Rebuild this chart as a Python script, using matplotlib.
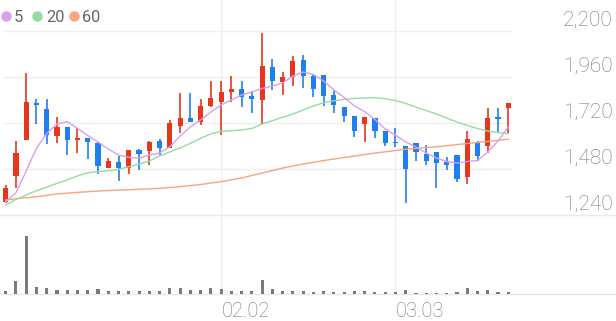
import numpy as np
import matplotlib
matplotlib.use('Agg')
from matplotlib import pyplot as plt
from matplotlib.lines import Line2D

# daily candles (index 0..49)
opens = [1308, 1443, 1631, 1826, 1793, 1654, 1701, 1631, 1640, 1617,
         1487, 1515, 1487, 1579, 1574, 1626, 1591, 1704, 1744, 1727,
         1809, 1828, 1880, 1896, 1861, 1840, 2014, 1935, 1958, 2049,
         1965, 1970, 1866, 1802, 1757, 1715, 1748, 1678, 1622, 1600,
         1614, 1557, 1570, 1518, 1553, 1437, 1617, 1600, 1750, 1797]
highs = [1396, 1626, 1982, 1845, 1844, 1753, 1701, 1692, 1640, 1622,
         1536, 1549, 1579, 1584, 1628, 1636, 1736, 1878, 1878, 1845,
         1941, 1941, 1967, 1939, 1887, 2188, 2052, 1988, 2070, 2075,
         1970, 1970, 1892, 1805, 1757, 1750, 1748, 1678, 1695, 1600,
         1614, 1605, 1570, 1544, 1553, 1678, 1628, 1797, 1797, 1826]
lows = [1303, 1381, 1631, 1715, 1610, 1614, 1553, 1565, 1531, 1452,
        1487, 1419, 1452, 1475, 1501, 1553, 1591, 1666, 1727, 1710,
        1802, 1657, 1831, 1802, 1774, 1715, 1892, 1866, 1915, 1901,
        1857, 1809, 1774, 1727, 1648, 1622, 1640, 1600, 1593, 1301,
        1523, 1501, 1379, 1475, 1414, 1402, 1523, 1562, 1666, 1666]
closes = [1381, 1565, 1831, 1814, 1657, 1701, 1631, 1643, 1622, 1497,
          1522, 1487, 1579, 1558, 1622, 1591, 1722, 1744, 1727, 1809,
          1849, 1883, 1896, 1854, 1845, 2017, 1941, 1958, 2045, 1965,
          1896, 1861, 1814, 1757, 1678, 1750, 1680, 1614, 1614, 1478,
          1570, 1522, 1510, 1501, 1426, 1635, 1548, 1744, 1739, 1826]
volume = [300, 1330, 5830, 730, 600, 370, 370, 370, 370, 470,
          300, 300, 300, 300, 300, 300, 570, 570, 370, 370,
          630, 500, 300, 300, 300, 1400, 530, 300, 300, 270,
          230, 330, 170, 230, 270, 270, 230, 230, 230, 430,
          130, 100, 100, 100, 200, 630, 270, 430, 230, 230]

# moving averages as drawn
ma5 = [1309, 1356, 1470, 1588, 1666, 1715, 1727, 1692, 1655, 1621,
       1584, 1553, 1541, 1536, 1553, 1563, 1596, 1652, 1699, 1736,
       1777, 1814, 1840, 1866, 1882, 1900, 1913, 1929, 1965, 1986,
       1973, 1939, 1892, 1853, 1809, 1779, 1738, 1689, 1657, 1621,
       1595, 1563, 1537, 1519, 1511, 1519, 1524, 1569, 1626, 1699]
ma20 = [1292, 1321, 1344, 1367, 1385, 1405, 1423, 1444, 1461, 1466,
        1471, 1478, 1492, 1505, 1522, 1548, 1569, 1590, 1614, 1640,
        1663, 1676, 1680, 1683, 1692, 1715, 1732, 1750, 1767, 1788,
        1809, 1826, 1836, 1843, 1848, 1850, 1852, 1847, 1837, 1822,
        1803, 1785, 1767, 1746, 1725, 1707, 1691, 1678, 1670, 1665]
ma60_idx = [0, 1, 3, 5, 7, 9, 11, 13, 15, 17, 19, 21, 23, 25, 27, 29, 31, 33, 36, 39, 42, 45, 49]
ma60 = [1318, 1325, 1335, 1350, 1358, 1365, 1370, 1374, 1379, 1388, 1399, 1414,
        1433, 1459, 1485, 1506, 1524, 1540, 1563, 1583, 1596, 1613, 1635]

price_ticks = [1240, 1480, 1720, 1960, 2200]
date_idx = [21, 38]
date_labels = ['02.02', '03.03']

W, H = 616, 321
UP, DOWN = '#e8361c', '#1f7fef'
GRID = '#efefef'
TXT = '#777777'


def px_rect(left, top, right, bottom):
  return [left / W, 1 - bottom / H, (right - left) / W, (bottom - top) / H]


fig = plt.figure(figsize=(W / 100, H / 100), dpi=100)
ax = fig.add_axes(px_rect(0, 0, W, 215))
axv = fig.add_axes(px_rect(0, 215, W, 294))

x0, dx = 5.7, 10.257
for a in (ax, axv):
  a.set_xlim(-x0 / dx, (W - x0) / dx)
  a.axis('off')
ax.set_ylim(1240, 1240 + 215 * 240 / 46)
axv.set_ylim(0, 7900)

idx = np.arange(len(closes))

# grid
ax.hlines(price_ticks[1:], (3 - x0) / dx, (512 - x0) / dx, color=GRID, lw=1, zorder=0)
ax.axhline(1240, color='#e8e8e8', lw=1, clip_on=False, zorder=0)
axv.axhline(0, color='#e6e6e6', lw=1, clip_on=False, zorder=0)
for d in date_idx:
  ax.axvline(d, color=GRID, lw=1, zorder=0)
  axv.axvline(d, color=GRID, lw=1, zorder=0)

# candles
o, h, l, c = map(np.array, (opens, highs, lows, closes))
cols = np.where(c >= o, UP, DOWN)
ax.vlines(idx, l, h, colors=cols, lw=1.2, zorder=2)
body = np.maximum(np.abs(c - o), 8)
ax.bar(idx, body, bottom=np.minimum(o, c) - (body - np.abs(c - o)) / 2,
       width=0.5, color=cols, zorder=3)

# moving averages
ax.plot(ma60_idx, ma60, color='#f6a57f', lw=1, zorder=4)
ax.plot(idx, ma20, color='#94dca2', lw=1, zorder=4)
ax.plot(idx, ma5, color='#d79ff0', lw=1, zorder=4)

# volume
axv.bar(idx, volume, width=0.3, color='#7a7a7a', zorder=2)

# right price labels
for p in price_ticks:
  ax.text(612.5 / W, p + 5.5 * 240 / 46, f'{p:,}', transform=ax.get_yaxis_transform(),
          ha='right', va='baseline', fontsize=15, color=TXT,
          family='Roboto', fontweight='light')

# date labels
for d, s in zip(date_idx, date_labels):
  axv.text(d + 0.05, -22.7 / 79, s, transform=axv.get_xaxis_transform(),
           ha='left', va='baseline', fontsize=14.5, color=TXT,
           family='Roboto', fontweight='light')

# legend
for cx, tx, col, lab in [(6, 14, '#d79ff0', '5'), (37, 46, '#94dca2', '20'),
                         (74, 82, '#f6a57f', '60')]:
  fig.add_artist(Line2D([cx / W], [1 - 15.5 / H], marker='o', markersize=6.5,
                        color=col, transform=fig.transFigure))
  fig.text(tx / W, 1 - 21.7 / H, lab, ha='left', va='baseline', fontsize=11.8,
           color='#666666', family='Roboto')

fig.savefig('out.png', dpi=100)
